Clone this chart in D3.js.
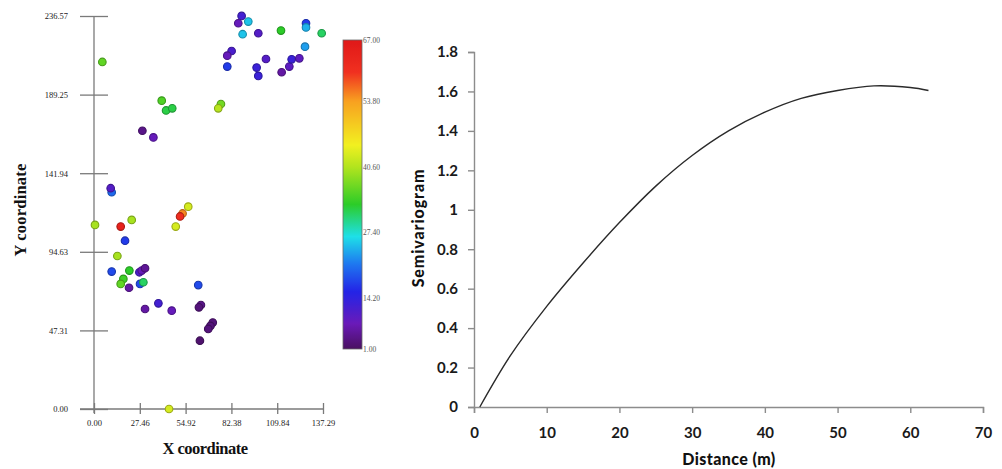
<!DOCTYPE html>
<html>
<head>
<meta charset="utf-8">
<script src="https://cdn.jsdelivr.net/npm/d3@7"></script>
<style>
  html, body { margin: 0; padding: 0; background: #fff; }
  svg { display: block; }
</style>
</head>
<body>
<svg id="chart" width="1002" height="469"></svg>
<script>
// ---- Sample locations (left panel) ----
const xTicks = [0.00, 27.46, 54.92, 82.38, 109.84, 137.29];
const yTicks = [0.00, 47.31, 94.63, 141.94, 189.25, 236.57];
const colorTicks = [1.00, 14.20, 27.40, 40.60, 53.80, 67.00];

const sampleX = [
  88.5, 86.5, 92.5, 89.1, 98.5, 112.1, 127.1, 127.1, 136.5, 126.5,
  82.5, 79.9, 79.9, 103.1, 97.5, 98.5, 112.5, 117.1, 118.5, 123.1,
  5.0, 40.6, 43.2, 46.9, 76.1, 74.5, 29.0, 35.6,
  10.6, 10.0, 0.6, 16.0, 22.6, 18.6, 56.5, 53.1, 51.6, 49.0,
  14.0, 10.6, 21.2, 17.6, 16.0, 21.0, 27.2, 28.6, 30.6, 27.6, 29.6,
  62.5, 30.6, 38.6, 46.6, 64.1, 62.9, 71.2, 69.8, 68.5, 63.5, 45.0
];
const sampleY = [
  236.6, 232.2, 233.2, 225.6, 226.2, 227.8, 232.2, 229.7, 226.2, 218.1,
  215.5, 212.7, 206.1, 210.7, 205.5, 200.5, 202.7, 206.1, 210.5, 211.1,
  208.9, 185.6, 179.7, 181.0, 183.6, 181.0, 167.5, 163.5,
  130.5, 132.9, 110.8, 109.8, 113.8, 101.3, 121.8, 117.7, 115.9, 109.8,
  92.1, 82.7, 83.3, 78.3, 75.3, 73.0, 82.3, 83.3, 84.7, 75.3, 76.3,
  74.6, 60.2, 63.6, 59.2, 62.6, 61.2, 52.0, 50.0, 48.2, 41.1, 0.0
];
const sampleValue = [
  12, 8, 25, 25, 10, 33, 17, 24, 31, 23,
  11, 8, 17, 10, 13, 13, 6, 9, 13, 9,
  36, 35, 32, 32, 37, 41, 4, 8,
  20, 10, 40, 64, 40, 17, 43, 55, 61, 43,
  40, 18, 33, 34, 36, 6, 11, 8, 5, 18, 31,
  18, 6, 12, 8, 4, 3, 3, 3, 3, 2, 43
];

// Rainbow colour ramp used for the sample values
const rampValues = [1, 7.5, 15.5, 21, 26.5, 33, 40.6, 45, 53.8, 60, 67];
const rampColors = ["#4a1060", "#6a1ab8", "#2424e6", "#1e78f0", "#1ee0e8",
                    "#2ccc28", "#b2e41e", "#f2f020", "#f8a020", "#f03020", "#e01818"];

// ---- Semivariogram (right panel) ----
const distTicks = [0, 10, 20, 30, 40, 50, 60, 70];
const gammaTicks = [0, 0.2, 0.4, 0.6, 0.8, 1, 1.2, 1.4, 1.6, 1.8];
const lagDistance = [0.8, 5, 10, 15, 20, 25, 30, 35, 40, 45, 50, 55, 60, 62.5];
const semivariance = [0, 0.26, 0.51, 0.73, 0.935, 1.12, 1.275, 1.40, 1.495,
                      1.565, 1.605, 1.628, 1.62, 1.605];

const svg = d3.select("#chart");

// ================= Left panel =================
const serif = "'Liberation Serif', 'DejaVu Serif', serif";
const axisGrey = "#7a7a7a";
const xs = d3.scaleLinear().domain([0, 137.29]).range([94, 323]);
const ys = d3.scaleLinear().domain([0, 236.57]).range([409, 16]);
const color = d3.scaleLinear().domain(rampValues).range(rampColors).clamp(true);

const left = svg.append("g");

// axis lines
left.append("line").attr("x1", xs(0)).attr("x2", xs(0))
  .attr("y1", ys(236.57)).attr("y2", ys(0) + 4)
  .attr("stroke", axisGrey).attr("stroke-width", 1.3);
left.append("line").attr("x1", xs(0) - 14).attr("x2", xs(137.29))
  .attr("y1", ys(0)).attr("y2", ys(0))
  .attr("stroke", axisGrey).attr("stroke-width", 1.3);

const yAx = left.append("g").attr("transform", `translate(${xs(0)},0)`)
  .call(d3.axisLeft(ys).tickValues(yTicks).tickFormat(d3.format(".2f")).tickSize(14).tickPadding(12));
yAx.select(".domain").remove();
yAx.selectAll(".tick line").attr("x1", -14).attr("x2", 14)
  .attr("stroke", axisGrey).attr("stroke-width", 1.3);
yAx.selectAll(".tick text").attr("font-family", serif).attr("font-size", 8.5)
  .attr("fill", "#222").attr("dy", "0.35em");

const xAx = left.append("g").attr("transform", `translate(0,${ys(0)})`)
  .call(d3.axisBottom(xs).tickValues(xTicks).tickFormat(d3.format(".2f")).tickSize(5).tickPadding(6));
xAx.select(".domain").remove();
xAx.selectAll(".tick line").attr("y1", -6).attr("y2", 5)
  .attr("stroke", axisGrey).attr("stroke-width", 1.3);
xAx.selectAll(".tick text").attr("font-family", serif).attr("font-size", 8.5)
  .attr("fill", "#222");

left.append("text").attr("x", 205).attr("y", 454).attr("text-anchor", "middle")
  .attr("font-family", serif).attr("font-weight", "bold").attr("font-size", 16.5)
  .attr("letter-spacing", -0.5).attr("fill", "#111").text("X coordinate");
left.append("text").attr("transform", "translate(26,210) rotate(-90)")
  .attr("text-anchor", "middle")
  .attr("font-family", serif).attr("font-weight", "bold").attr("font-size", 16.5)
  .attr("letter-spacing", 0.2).attr("fill", "#111").text("Y coordinate");

// sample points
const pts = sampleX.map((x, i) => ({ x, y: sampleY[i], v: sampleValue[i] }));
left.append("g").selectAll("circle").data(pts).join("circle")
  .attr("cx", d => xs(d.x)).attr("cy", d => ys(d.y)).attr("r", 3.8)
  .attr("fill", d => color(d.v))
  .attr("stroke", d => d3.color(color(d.v)).darker(0.9))
  .attr("stroke-width", 1.1);

// colour bar
const barY = d3.scaleLinear().domain(colorTicks).range([349, 298, 232, 167, 101, 40]);
const defs = svg.append("defs");
const grad = defs.append("linearGradient").attr("id", "ramp")
  .attr("x1", 0).attr("y1", 1).attr("x2", 0).attr("y2", 0);
const barTop = barY(67), barBot = barY(1);
d3.range(1, 67.01, 0.5).forEach(v => {
  grad.append("stop")
    .attr("offset", (barBot - barY(v)) / (barBot - barTop))
    .attr("stop-color", color(v));
});
left.append("rect").attr("x", 343).attr("y", barTop).attr("width", 19)
  .attr("height", barBot - barTop).attr("fill", "url(#ramp)")
  .attr("stroke", "#6a6a6a").attr("stroke-width", 0.8);
left.append("g").selectAll("text").data(colorTicks).join("text")
  .attr("x", 363).attr("y", d => barY(d)).attr("dy", "0.35em")
  .attr("font-family", serif).attr("font-size", 7.5).attr("fill", "#555")
  .text(d => d3.format(".2f")(d));

// ================= Right panel =================
const sans = "Lato, 'Open Sans', sans-serif";
const rGrey = "#8c8c8c";
const dx = d3.scaleLinear().domain([0, 70]).range([474, 983]);
const gy = d3.scaleLinear().domain([0, 1.8]).range([407, 52]);
const right = svg.append("g");

const gyAx = right.append("g").attr("transform", `translate(${dx(0)},0)`)
  .call(d3.axisLeft(gy).tickValues(gammaTicks).tickFormat(d => d3.format("")(+d.toFixed(1)))
    .tickSize(6).tickPadding(10));
gyAx.select(".domain").attr("stroke", rGrey).attr("stroke-width", 1.4);
gyAx.selectAll(".tick line").attr("stroke", rGrey).attr("stroke-width", 1.4);
gyAx.selectAll(".tick text").attr("font-family", sans).attr("font-weight", "bold")
  .attr("font-size", 15).attr("fill", "#1a1a1a");

const dxAx = right.append("g").attr("transform", `translate(0,${gy(0)})`)
  .call(d3.axisBottom(dx).tickValues(distTicks).tickSize(6).tickPadding(14));
dxAx.select(".domain").attr("stroke", rGrey).attr("stroke-width", 1.4);
dxAx.selectAll(".tick line").attr("stroke", rGrey).attr("stroke-width", 1.4);
dxAx.selectAll(".tick text").attr("font-family", sans).attr("font-weight", "bold")
  .attr("font-size", 15).attr("fill", "#1a1a1a");

right.append("text").attr("x", 729).attr("y", 465).attr("text-anchor", "middle")
  .attr("font-family", sans).attr("font-weight", "900").attr("font-size", 16)
  .attr("letter-spacing", 0.4).attr("fill", "#111").text("Distance (m)");
right.append("text").attr("transform", "translate(424,228) rotate(-90)")
  .attr("text-anchor", "middle")
  .attr("font-family", sans).attr("font-weight", "900").attr("font-size", 16)
  .attr("letter-spacing", 0.9).attr("fill", "#111").text("Semivariogram");

const curve = lagDistance.map((d, i) => ({ d, g: semivariance[i] }));
right.append("path").datum(curve)
  .attr("fill", "none").attr("stroke", "#2a2a2a").attr("stroke-width", 1.4)
  .attr("d", d3.line().x(p => dx(p.d)).y(p => gy(p.g)).curve(d3.curveCatmullRom));
</script>
</body>
</html>
